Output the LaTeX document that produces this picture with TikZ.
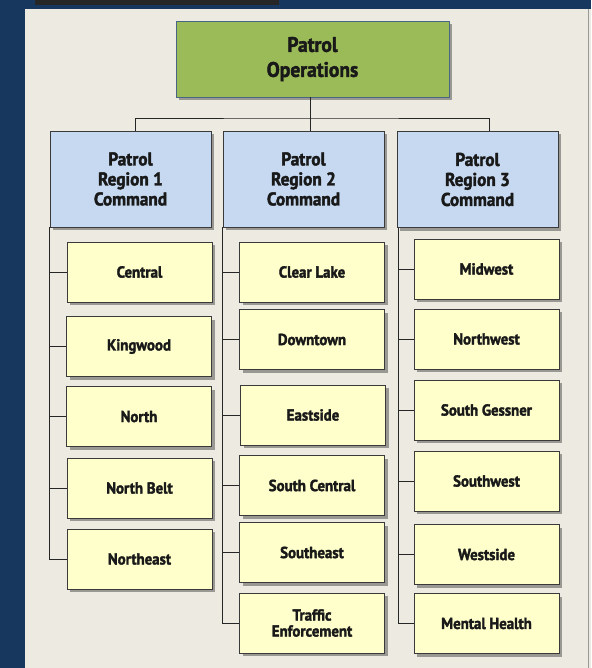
\documentclass[tikz,border=0pt]{standalone}
\usepackage{fontspec}
\setmainfont{PT Sans}[FakeStretch=0.93,BoldFeatures={FakeBold=2}]
\usetikzlibrary{shadows}
\definecolor{navy}{HTML}{17375E}
\definecolor{paper}{HTML}{EDEBE1}
\definecolor{topgreen}{HTML}{9BBB59}
\definecolor{regblue}{HTML}{C6D9F1}
\definecolor{unityellow}{HTML}{FFFFCC}
\definecolor{edge}{HTML}{3A3A3A}
\definecolor{greenedge}{HTML}{4A6584}
\tikzset{
  boxshadow/.style={drop shadow={shadow xshift=3pt,shadow yshift=-3pt,opacity=0.35,fill=black}},
  topbox/.style={draw=greenedge,line width=0.8pt,fill=topgreen,minimum width=273pt,minimum height=76pt,
    align=center,font=\bfseries\fontsize{21}{25}\selectfont,text=black!90,boxshadow,inner sep=0pt},
  regbox/.style={draw=edge,line width=0.8pt,fill=regblue,minimum width=161pt,minimum height=96pt,
    align=center,font=\bfseries\fontsize{18.5}{20}\selectfont,text=black!90,boxshadow,inner sep=0pt},
  unitbox/.style={draw=edge,line width=0.8pt,fill=unityellow,minimum width=145pt,minimum height=60pt,
    align=center,font=\bfseries\fontsize{16}{16}\selectfont,text=black!90,boxshadow,inner sep=0pt},
  link/.style={draw=black!85,line width=0.7pt},
}
\begin{document}
\begin{tikzpicture}[x=1pt,y=-1pt]
\useasboundingbox (0,0) rectangle (591,668);
% background
\fill[navy] (0,0) rectangle (591,668);
\fill[black!85] (35,0) rectangle (279,5);
\fill[paper] (25,9) rectangle (591,668);
\draw[black!40,line width=0.6pt] (588,9) -- (588,668);
% top
\node[topbox] (top) at (312.5,59) {Patrol\\Operations};
% regions
\node[regbox] (r1) at (130.5,179) {Patrol\\Region 1\\Command};
\node[regbox] (r2) at (303.5,179) {Patrol\\Region 2\\Command};
\node[regbox] (r3) at (477.5,179.5) {Patrol\\Region 3\\Command};
% region 1 units
\node[unitbox] (central) at (139.5,272) {Central};
\node[unitbox] (kingwood) at (139,346.5) {Kingwood};
\node[unitbox] (north) at (139,416.5) {North};
\node[unitbox] (northbelt) at (139.5,488) {North Belt};
\node[unitbox] (northeast) at (139.5,559) {Northeast};
% region 2 units
\node[unitbox] (clearlake) at (312,272) {Clear Lake};
\node[unitbox] (downtown) at (312,339.5) {Downtown};
\node[unitbox] (eastside) at (313,415) {Eastside};
\node[unitbox] (southcentral) at (312,485.5) {South Central};
\node[unitbox] (southeast) at (312,552.5) {Southeast};
\node[unitbox] (traffic) at (312,623) {Traffic\\Enforcement};
% region 3 units
\node[unitbox] (midwest) at (486.5,269) {Midwest};
\node[unitbox] (northwest) at (486.5,339) {Northwest};
\node[unitbox] (southgessner) at (486.5,410) {South Gessner};
\node[unitbox] (southwest) at (486.5,481) {Southwest};
\node[unitbox] (westside) at (486.5,554.5) {Westside};
\node[unitbox] (mentalhealth) at (486.5,623.5) {Mental Health};
% top connectors
\coordinate (bus) at (310,118);
\draw[link] ([xshift=-2.5pt]top.south) -- ([xshift=-2.5pt]top.south |- r2.north);
\draw[link] ([xshift=4.5pt]r1.north) |- (bus) -| ([xshift=11.5pt]r3.north);
% region 1 bracket
\draw[link] (r1.south west) |- (northeast.west);
\foreach \n in {central,kingwood,north,northbelt}
  \draw[link] (r1.south west |- \n.west) -- (\n.west);
% region 2 bracket
\draw[link] (r2.south west) |- (traffic.west);
\foreach \n in {clearlake,downtown,eastside,southcentral,southeast}
  \draw[link] (r2.south west |- \n.west) -- (\n.west);
% region 3 bracket
\draw[link] ([xshift=2pt]r3.south west) |- (mentalhealth.west);
\foreach \n in {midwest,northwest,southgessner,southwest,westside}
  \draw[link] ([xshift=2pt]r3.south west |- \n.west) -- (\n.west);
\end{tikzpicture}
\end{document}
